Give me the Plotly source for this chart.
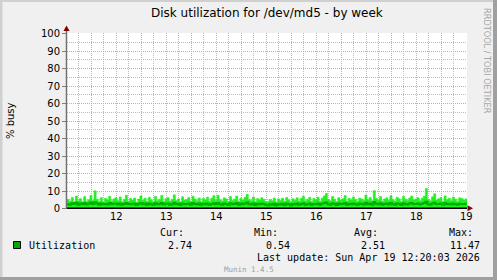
import plotly.graph_objects as go
import pandas as pd

# ---------------- data ----------------
title_text = "Disk utilization for /dev/md5 - by week"
y_title = "% busy"
series_name = "Utilization"
start_time = "2026-04-11 12:20:03"
end_time = "2026-04-19 12:20:03"
day_ticks = ["2026-04-12", "2026-04-13", "2026-04-14", "2026-04-15",
             "2026-04-16", "2026-04-17", "2026-04-18", "2026-04-19"]
day_labels = ["12", "13", "14", "15", "16", "17", "18", "19"]
y_ticks = [0, 10, 20, 30, 40, 50, 60, 70, 80, 90, 100]

# hourly peak utilization (bright green)
util_max = [
    5.2, 4.1, 6.3, 3.8, 7.1, 4.5, 5.6, 3.9, 6.8, 4.2, 5.0, 7.4, 4.6, 10.1, 5.3, 4.0, 6.2, 3.7, 5.8, 4.9, 7.0, 4.3, 5.5, 6.1,
    4.4, 6.6, 3.9, 5.1, 7.6, 4.2, 5.7, 4.8, 6.0, 3.6, 5.4, 7.2, 4.7, 5.9, 4.1, 6.4, 5.0, 3.8, 6.9, 4.5, 5.3, 7.5, 4.0, 5.6,
    6.2, 4.3, 5.1, 7.8, 4.6, 5.5, 3.9, 6.7, 4.8, 5.2, 6.3, 4.1, 7.0, 5.4, 4.4, 6.0, 3.8, 5.7, 4.9, 6.5, 4.2, 5.8, 7.3, 4.7,
    7.6, 5.0, 4.3, 6.1, 5.5, 3.9, 6.8, 4.6, 5.3, 7.1, 4.2, 5.9, 4.8, 6.4, 8.1, 5.1, 4.5, 6.6, 3.8, 5.7, 4.9, 6.2, 5.3, 4.0,
    3.9, 5.2, 4.4, 6.0, 3.7, 5.5, 4.6, 5.9, 4.1, 6.3, 5.0, 3.8, 5.6, 4.7, 6.1, 4.3, 5.8, 7.0, 4.5, 5.2, 6.4, 4.0, 5.7, 4.9,
    6.5, 4.2, 5.9, 7.2, 8.6, 5.1, 4.4, 6.8, 5.3, 4.0, 6.2, 4.8, 5.6, 7.4, 4.3, 5.8, 4.9, 6.6, 5.2, 4.1, 6.0, 5.4, 4.6, 7.7,
    5.0, 6.3, 4.4, 10.2, 5.7, 4.8, 6.9, 4.2, 5.5, 6.1, 4.7, 7.3, 5.1, 4.3, 6.4, 5.6, 4.0, 6.8, 5.3, 4.6, 6.0, 7.1, 4.9, 5.4,
    6.2, 4.5, 5.8, 7.0, 11.47, 5.2, 4.4, 6.7, 8.4, 4.9, 5.6, 6.3, 4.1, 7.2, 5.0, 5.9, 4.6, 6.5, 5.3, 4.2, 6.1, 5.7, 4.8, 5.5,
]
# hourly average utilization (dark green)
util_avg = [
    2.4, 2.1, 3.0, 2.6, 3.3, 2.2, 2.8, 2.5, 3.1, 2.3, 2.7, 3.4, 2.6, 3.6, 2.9, 2.2, 2.8, 2.4, 2.6, 2.3, 3.1, 2.5, 2.7, 2.9,
    2.3, 2.9, 2.1, 2.6, 3.2, 2.4, 2.7, 2.5, 2.9, 2.0, 2.6, 3.1, 2.4, 2.8, 2.2, 2.9, 2.5, 2.1, 3.0, 2.4, 2.6, 3.2, 2.3, 2.7,
    2.8, 2.2, 2.5, 3.3, 2.4, 2.7, 2.0, 2.9, 2.5, 2.6, 2.9, 2.2, 3.1, 2.6, 2.3, 2.8, 2.1, 2.7, 2.4, 2.9, 2.2, 2.6, 3.0, 2.4,
    3.2, 2.5, 2.2, 2.8, 2.6, 2.0, 3.0, 2.4, 2.6, 3.1, 2.2, 2.8, 2.4, 2.9, 3.4, 2.5, 2.3, 2.9, 2.0, 2.7, 2.4, 2.8, 2.6, 2.1,
    1.9, 2.5, 2.2, 2.7, 1.8, 2.5, 2.3, 2.7, 2.0, 2.8, 2.4, 1.9, 2.6, 2.3, 2.8, 2.1, 2.6, 3.0, 2.2, 2.5, 2.9, 2.0, 2.6, 2.4,
    2.9, 2.1, 2.7, 3.1, 3.5, 2.5, 2.2, 3.0, 2.6, 2.0, 2.8, 2.4, 2.6, 3.2, 2.2, 2.7, 2.4, 2.9, 2.5, 2.1, 2.8, 2.6, 2.3, 3.3,
    2.5, 2.9, 2.2, 3.7, 2.7, 2.4, 3.0, 2.1, 2.6, 2.8, 2.3, 3.2, 2.5, 2.2, 2.9, 2.6, 2.0, 3.0, 2.5, 2.3, 2.8, 3.1, 2.4, 2.6,
    2.8, 2.3, 2.7, 3.1, 3.9, 2.5, 2.2, 2.9, 3.3, 2.4, 2.6, 2.8, 2.1, 3.1, 2.5, 2.7, 2.3, 2.9, 2.5, 2.1, 2.7, 2.6, 2.4, 2.74,
]
stat_labels = ["Cur:", "Min:", "Avg:", "Max:"]
stat_values = ["2.74", "0.54", "2.51", "11.47"]
last_update = "Last update: Sun Apr 19 12:20:03 2026"
footer = "Munin 1.4.5"
watermark = "RRDTOOL / TOBI OETIKER"

# ---------------- styling ----------------
W, H = 497, 280
L, R, T, B = 67, 30, 33, 71
PW, PH = W - L - R, H - T - B
BRIGHT = "#22F022"
DARK = "#00B000"
PINK = "#F29A9A"
GREY = "#BDBDBD"
SANS = "DejaVu Sans"
MONO = "DejaVu Sans Mono"


def px(x):
    return (x - L) / PW


def py(y):
    return 1 - (y - T) / PH


start = pd.Timestamp(start_time)
end = pd.Timestamp(end_time)
times = [start + pd.Timedelta(hours=i) for i in range(len(util_max))] + [end]
ymax = util_max + [util_max[-1]]
yavg = util_avg + [util_avg[-1]]

fig = go.Figure()
fig.add_trace(go.Scatter(x=times, y=ymax, mode="lines",
                         line=dict(shape="hv", width=0.6, color=BRIGHT),
                         fill="tozeroy", fillcolor=BRIGHT, hoverinfo="skip"))
fig.add_trace(go.Scatter(x=times, y=yavg, mode="lines",
                         line=dict(shape="hv", width=2, color=DARK), hoverinfo="skip"))

yr0 = -(209 - 208.5) / 1.75
fig.update_layout(
    width=W, height=H, margin=dict(l=L, r=R, t=T, b=B),
    paper_bgcolor="#F0F0F0", plot_bgcolor="#FFFFFF",
    showlegend=False,
    font=dict(family=SANS, size=10, color="#000000"),
    xaxis=dict(type="date", range=[start, end],
               tickvals=day_ticks, ticktext=day_labels, ticklabelshift=25,
               ticks="", showline=False, zeroline=False,
               showgrid=True, gridcolor=PINK, griddash="1px,1px", gridwidth=1,
               minor=dict(tick0="2026-04-11", dtick=6 * 3600 * 1000, showgrid=True,
                          gridcolor=GREY, griddash="1px,1px", gridwidth=1),
               tickfont=dict(family=SANS, size=10, color="#000")),
    yaxis=dict(range=[yr0, 100.286], tickvals=y_ticks,
               ticks="outside", ticklen=4, tickcolor="#808080", tickwidth=1,
               showline=False, zeroline=False,
               showgrid=True, gridcolor=PINK, griddash="1px,1px", gridwidth=1,
               minor=dict(dtick=5, showgrid=True, gridcolor=GREY, griddash="1px,1px", gridwidth=1),
               tickfont=dict(family=SANS, size=10, color="#000")),
)

shapes = []
# y axis line
shapes.append(dict(type="line", xref="paper", yref="paper", x0=px(66.5), x1=px(66.5),
                   y0=py(30), y1=py(209), line=dict(color="#707070", width=1.5)))
# black zero line
shapes.append(dict(type="line", xref="x", yref="y", x0=start, x1=end, y0=0, y1=0,
                   line=dict(color="#000000", width=2)))
# axis arrows
shapes.append(dict(type="path", xref="paper", yref="paper",
                   path=f"M {px(66.5)} {py(25.5)} L {px(63.5)} {py(31)} L {px(69.5)} {py(31)} Z",
                   fillcolor="#7F0000", line=dict(width=0)))
shapes.append(dict(type="path", xref="paper", yref="paper",
                   path=f"M {px(473)} {py(208.2)} L {px(467.5)} {py(205.2)} L {px(467.5)} {py(211.2)} Z",
                   fillcolor="#7F0000", line=dict(width=0)))
# legend swatch
shapes.append(dict(type="rect", xref="paper", yref="paper", x0=px(13.5), x1=px(20.5),
                   y0=py(248.5), y1=py(241.5), fillcolor="#00AA00",
                   line=dict(color="#000000", width=1)))
# 3D frame
shapes.append(dict(type="rect", xref="paper", yref="paper", x0=px(0), x1=px(W),
                   y0=py(0), y1=py(2), fillcolor="#D0D0D0", line=dict(width=0)))
shapes.append(dict(type="rect", xref="paper", yref="paper", x0=px(0), x1=px(2.5),
                   y0=py(0), y1=py(H), fillcolor="#D0D0D0", line=dict(width=0)))
shapes.append(dict(type="rect", xref="paper", yref="paper", x0=px(493), x1=px(W),
                   y0=py(0), y1=py(H), fillcolor="#A0A0A0", line=dict(width=0)))
shapes.append(dict(type="rect", xref="paper", yref="paper", x0=px(0), x1=px(W),
                   y0=py(277), y1=py(H), fillcolor="#A0A0A0", line=dict(width=0)))
fig.update_layout(shapes=shapes)


def ann(text, x, y, xanchor="center", size=10, family=SANS, color="#000", angle=0):
    fig.add_annotation(text=text, xref="paper", yref="paper", x=px(x), y=py(y),
                       xanchor=xanchor, yanchor="middle", showarrow=False,
                       textangle=angle, font=dict(family=family, size=size, color=color))


ann(title_text, (L + W - R) / 2, 13.5, size=12)
ann(y_title, 10, 121, angle=-90)
ann(watermark, 487, 61, size=8.2, color="#A8A8A8", angle=90)

label_x = [158, 252, 352, 447]
value_right = [194, 292, 387, 482]
for lab, lx in zip(stat_labels, label_x):
    ann(lab, lx, 232.5, xanchor="left", family=MONO)
ann(series_name, 26.5, 245, xanchor="left", family=MONO)
for val, vx in zip(stat_values, value_right):
    ann(val, vx, 245, xanchor="right", family=MONO)
ann(last_update, 482, 257, xanchor="right", family=MONO)
ann(footer, 249, 269.5, size=7.5, family=MONO, color="#A0A0A0")

fig.write_html("out.html")
